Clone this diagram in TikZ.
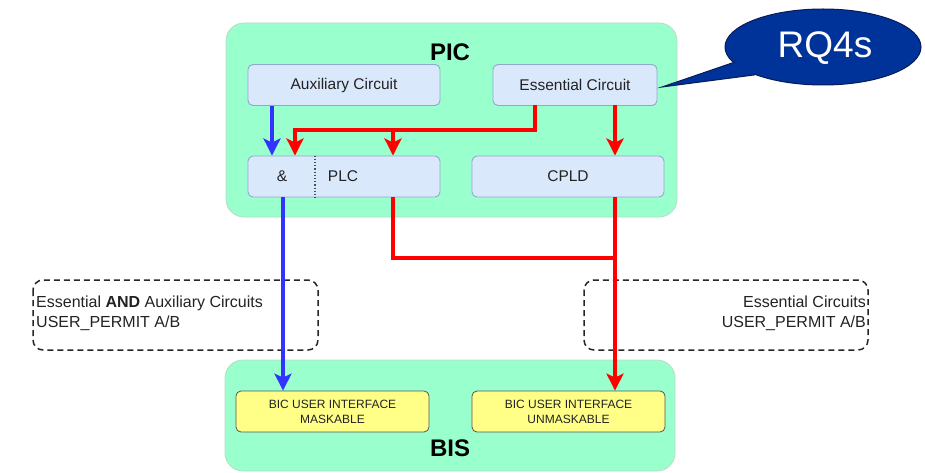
\documentclass[tikz,border=0pt]{standalone}
\usepackage{fontspec}
\setmainfont{Liberation Sans}
\usetikzlibrary{arrows.meta,shapes.geometric}
\definecolor{mint}{HTML}{99FFCC}
\definecolor{mintline}{HTML}{B7DCC4}
\definecolor{boxfill}{HTML}{DAE8FC}
\definecolor{boxline}{HTML}{8FA8CF}
\definecolor{yel}{HTML}{FFFF88}
\definecolor{yelline}{HTML}{555555}
\definecolor{bluearr}{HTML}{3333FF}
\definecolor{redarr}{HTML}{FF0000}
\definecolor{calloutfill}{HTML}{003399}
\definecolor{calloutline}{HTML}{0A1A55}
\definecolor{ink}{HTML}{222222}
\tikzset{
  container/.style={draw=mintline, fill=mint, line width=0.8pt, rounded corners=18pt},
  unit/.style={draw=boxline, fill=boxfill, line width=0.9pt, rounded corners=5pt,
    minimum height=41pt, text=ink, font=\fontsize{15.5}{18}\selectfont},
  bic/.style={draw=yelline, fill=yel, line width=0.8pt, rounded corners=5pt,
    minimum width=193pt, minimum height=41pt, align=center, inner sep=0pt,
    text=ink, font=\fontsize{12}{15}\selectfont},
  note/.style={draw=black!85, dash pattern=on 6pt off 4pt, line width=1.5pt,
    rounded corners=10pt},
  notetext/.style={font=\fontsize{16}{20}\selectfont, inner sep=0pt, text=ink},
  title/.style={font=\bfseries\fontsize{24}{26}\selectfont},
  sig/.style={line width=3.8pt, -{Stealth[length=17pt,width=17pt,inset=4pt]}},
  bluesig/.style={sig, draw=bluearr},
  redsig/.style={sig, draw=redarr},
}
\begin{document}
\begin{tikzpicture}[x=1pt,y=-1pt]
\useasboundingbox (0,0) rectangle (925,473);

% containers
\draw[container] (226,23) rectangle (677,217);
\draw[container] (225,360) rectangle (675,471);
\node[title] (pic) at (450,52) {PIC};
\node[title] (bis) at (450,448) {BIS};

% PIC units
\node[unit, minimum width=192pt] (aux) at (344,85) {Auxiliary Circuit};
\node[unit, minimum width=164pt] (ess) at (575,85) {Essential Circuit};
\node[unit, minimum width=192pt] (plc) at (344,176.5) {};
\node[unit, minimum width=192pt] (cpld) at (568,176.5) {CPLD};
\node[text=ink, font=\fontsize{15.5}{18}\selectfont] (amp) at (282,176.5) {\&};
\node[text=ink, font=\fontsize{15.5}{18}\selectfont] (plclabel) at (343,176.5) {PLC};
\draw[black!70, dotted, line width=1.2pt] (plc.north -| 315,0) -- (plc.south -| 315,0);

% BIS interfaces
\node[bic] (mask) at (332.5,411.5) {BIC USER INTERFACE\\MASKABLE};
\node[bic] (unmask) at (568.5,411.5) {BIC USER INTERFACE\\UNMASKABLE};

% dashed notes
\draw[note] (33,280) rectangle (318,350);
\draw[note] (584,280) rectangle (868,350);
\node[notetext, anchor=north west, align=left] (noteL) at (36,296)
  {Essential \textbf{AND} Auxiliary Circuits\\USER\_PERMIT A/B};
\node[notetext, anchor=north east, align=right] (noteR) at (866,296)
  {Essential Circuits\\USER\_PERMIT A/B};

% routing points
\coordinate (essA) at (535,105);
\coordinate (essB) at (615,105);
\coordinate (bus) at (535,130);
\coordinate (plcOut) at (393,197);
\coordinate (merge) at (615,258);

% signal connectors
\draw[bluesig] (aux.south -| 272,0) -- (plc.north -| 272,0);
\draw[redsig] (essA) |- (bus -| 295,0) -- (plc.north -| 295,0);
\draw[redsig] (bus -| 393,0) -- (plc.north -| 393,0);
\draw[redsig] (essB) -- (cpld.north -| essB);
\draw[bluesig] (plc.south -| 283,0) -- (mask.north -| 283,0);
\draw[redarr, line width=3.8pt] (plcOut) |- (merge);
\draw[redsig] (cpld.south -| merge) -- (unmask.north -| merge);

% callout
\coordinate (tip) at (662,87);
\draw[calloutline, fill=calloutfill, line width=1pt] (823,47) ellipse [x radius=98, y radius=38];
\draw[calloutline, fill=calloutfill, line width=1pt, line join=miter]
  (745,60) -- (732,63) -- (tip) -- (754,75) -- (765,68);
\fill[calloutfill] (823,47) ellipse [x radius=97, y radius=37];
\node[text=white, font=\fontsize{37}{40}\selectfont] (rq) at (825,48) {RQ4s};
\end{tikzpicture}
\end{document}
